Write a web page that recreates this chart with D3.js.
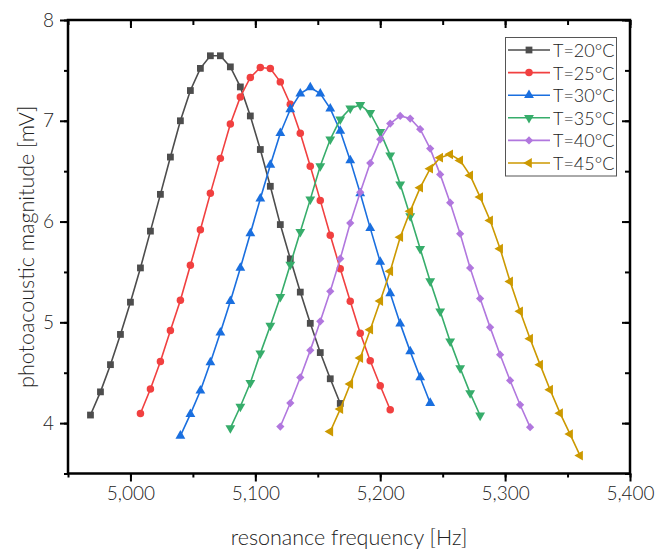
<!DOCTYPE html>
<html>
<head>
<meta charset="utf-8">
<script src="https://cdn.jsdelivr.net/npm/d3@7/dist/d3.min.js"></script>
<style>
  body { margin: 0; background: #fff; }
  text { font-family: Lato, "Open Sans", sans-serif; font-weight: 300; fill: #222; }
</style>
</head>
<body>
<div id="chart"></div>
<script>
// series labels and colours
var labels = ["T=20\u00b0C", "T=25\u00b0C", "T=30\u00b0C", "T=35\u00b0C", "T=40\u00b0C", "T=45\u00b0C"];
var colors = ["#4d4d4d", "#f14040", "#1a6fdf", "#37ad6b", "#b177de", "#cc9900"];

// resonance frequency [Hz] for each sweep
var freq20 = [4968, 4976, 4984, 4992, 5000, 5008, 5016, 5024, 5032, 5040, 5048, 5056, 5064, 5072, 5080, 5088, 5096, 5104, 5112, 5120, 5128, 5136, 5144, 5152, 5160, 5168];
var freq25 = [5008, 5016, 5024, 5032, 5040, 5048, 5056, 5064, 5072, 5080, 5088, 5096, 5104, 5112, 5120, 5128, 5136, 5144, 5152, 5160, 5168, 5176, 5184, 5192, 5200, 5208];
var freq30 = [5040, 5048, 5056, 5064, 5072, 5080, 5088, 5096, 5104, 5112, 5120, 5128, 5136, 5144, 5152, 5160, 5168, 5176, 5184, 5192, 5200, 5208, 5216, 5224, 5232, 5240];
var freq35 = [5080, 5088, 5096, 5104, 5112, 5120, 5128, 5136, 5144, 5152, 5160, 5168, 5176, 5184, 5192, 5200, 5208, 5216, 5224, 5232, 5240, 5248, 5256, 5264, 5272, 5280];
var freq40 = [5120, 5128, 5136, 5144, 5152, 5160, 5168, 5176, 5184, 5192, 5200, 5208, 5216, 5224, 5232, 5240, 5248, 5256, 5264, 5272, 5280, 5288, 5296, 5304, 5312, 5320];
var freq45 = [5160, 5168, 5176, 5184, 5192, 5200, 5208, 5216, 5224, 5232, 5240, 5248, 5256, 5264, 5272, 5280, 5288, 5296, 5304, 5312, 5320, 5328, 5336, 5344, 5352, 5360];

// photoacoustic magnitude [mV]
var mag20 = [4.08, 4.31, 4.58, 4.88, 5.20, 5.54, 5.905, 6.27, 6.64, 7.00, 7.30, 7.52, 7.645, 7.645, 7.535, 7.336, 7.048, 6.715, 6.35, 5.97, 5.63, 5.30, 4.99, 4.70, 4.44, 4.195];
var mag25 = [4.095, 4.338, 4.612, 4.918, 5.219, 5.566, 5.918, 6.28, 6.627, 6.968, 7.237, 7.43, 7.529, 7.519, 7.386, 7.164, 6.876, 6.548, 6.21, 5.865, 5.531, 5.209, 4.891, 4.619, 4.371, 4.132];
var mag30 = [3.874, 4.089, 4.321, 4.602, 4.898, 5.209, 5.54, 5.882, 6.227, 6.561, 6.876, 7.114, 7.27, 7.33, 7.27, 7.121, 6.899, 6.607, 6.28, 5.935, 5.60, 5.288, 4.987, 4.712, 4.453, 4.199];
var mag35 = [3.95, 4.165, 4.40, 4.692, 4.967, 5.252, 5.574, 5.899, 6.22, 6.551, 6.816, 7.015, 7.123, 7.157, 7.078, 6.889, 6.657, 6.369, 6.054, 5.73, 5.408, 5.109, 4.811, 4.547, 4.298, 4.076];
var mag40 = [3.966, 4.199, 4.453, 4.722, 5.01, 5.308, 5.632, 5.985, 6.29, 6.58, 6.816, 6.972, 7.048, 7.022, 6.916, 6.724, 6.468, 6.187, 5.879, 5.54, 5.236, 4.95, 4.679, 4.423, 4.182, 3.96];
var mag45 = [3.917, 4.139, 4.388, 4.646, 4.927, 5.212, 5.507, 5.845, 6.103, 6.336, 6.525, 6.634, 6.667, 6.607, 6.458, 6.243, 6.011, 5.73, 5.405, 5.109, 4.838, 4.58, 4.331, 4.099, 3.891, 3.678];

var xTicks = [5000, 5100, 5200, 5300, 5400];
var yTicks = [4, 5, 6, 7, 8];

var freqs = [freq20, freq25, freq30, freq35, freq40, freq45];
var mags = [mag20, mag25, mag30, mag35, mag40, mag45];

var width = 656;
var height = 549;
// plot frame (window.top is read-only, so no bare "top")
var padL = 68, padR = 630, padT = 20, padB = 473.5;

var svg = d3.select('#chart').append('svg')
  .attr('width', width)
  .attr('height', height);

var x = d3.scaleLinear().domain([4950, 5400]).range([padL, padR]);
var y = d3.scaleLinear().domain([3.5, 8]).range([padB, padT]);

// marker shapes: square, circle, up, down, diamond, left
var shapes = [
  { type: d3.symbolSquare, size: 46, rot: 0 },
  { type: d3.symbolCircle, size: 44, rot: 0 },
  { type: d3.symbolTriangle, size: 42, rot: 0 },
  { type: d3.symbolTriangle, size: 42, rot: 180 },
  { type: d3.symbolSquare, size: 34, rot: 45 },
  { type: d3.symbolTriangle, size: 42, rot: -90 }
];

var line = d3.line()
  .x(function(d) { return x(d[0]); })
  .y(function(d) { return y(d[1]); });

var plot = svg.append('g');
for (var s = 0; s < freqs.length; s++) {
  var pts = freqs[s].map(function(f, i) { return [f, mags[s][i]]; });
  plot.append('path')
    .datum(pts)
    .attr('d', line)
    .attr('fill', 'none')
    .attr('stroke', colors[s])
    .attr('stroke-width', 1.6);
  var sym = d3.symbol().type(shapes[s].type).size(shapes[s].size);
  var rot = shapes[s].rot;
  plot.selectAll('.m' + s)
    .data(pts)
    .enter().append('path')
    .attr('class', 'm' + s)
    .attr('d', sym)
    .attr('fill', colors[s])
    .attr('transform', function(d) {
      return 'translate(' + x(d[0]) + ',' + y(d[1]) + ') rotate(' + rot + ')';
    });
}

// axes: bottom/left ticks out, top/right ticks in
var xMinor = d3.range(4950, 5401, 50);
var yMinor = d3.range(3.5, 8.01, 0.5);

function noLabel() { return ''; }
function dropDomain(g) { g.select('.domain').remove(); }

svg.append('g').attr('transform', 'translate(0,' + padB + ')')
  .call(d3.axisBottom(x).tickValues(xMinor).tickSize(4).tickFormat(noLabel))
  .call(dropDomain);
svg.append('g').attr('transform', 'translate(0,' + padB + ')')
  .call(d3.axisBottom(x).tickValues(xTicks).tickSize(8).tickPadding(5).tickFormat(d3.format(',')))
  .call(dropDomain);

svg.append('g').attr('transform', 'translate(0,' + padT + ')')
  .call(d3.axisTop(x).tickValues(xMinor).tickSize(-5).tickFormat(noLabel))
  .call(dropDomain);
svg.append('g').attr('transform', 'translate(0,' + padT + ')')
  .call(d3.axisTop(x).tickValues(xTicks).tickSize(-8).tickFormat(noLabel))
  .call(dropDomain);

svg.append('g').attr('transform', 'translate(' + padL + ',0)')
  .call(d3.axisLeft(y).tickValues(yMinor).tickSize(4).tickFormat(noLabel))
  .call(dropDomain);
svg.append('g').attr('transform', 'translate(' + padL + ',0)')
  .call(d3.axisLeft(y).tickValues(yTicks).tickSize(8).tickPadding(6).tickFormat(d3.format('d')))
  .call(dropDomain);

svg.append('g').attr('transform', 'translate(' + padR + ',0)')
  .call(d3.axisRight(y).tickValues(yMinor).tickSize(-5).tickFormat(noLabel))
  .call(dropDomain);
svg.append('g').attr('transform', 'translate(' + padR + ',0)')
  .call(d3.axisRight(y).tickValues(yTicks).tickSize(-8).tickFormat(noLabel))
  .call(dropDomain);

svg.selectAll('.tick line').attr('stroke', '#000').attr('stroke-width', 2);
svg.selectAll('.tick text').attr('font-size', 19).attr('fill', '#222')
  .style('font-family', 'Lato, "Open Sans", sans-serif').style('font-weight', 300);

svg.append('rect')
  .attr('x', padL)
  .attr('y', padT)
  .attr('width', padR - padL)
  .attr('height', padB - padT)
  .attr('fill', 'none')
  .attr('stroke', '#000')
  .attr('stroke-width', 2.5);

// axis titles
svg.append('text')
  .attr('x', (padL + padR) / 2)
  .attr('y', 537)
  .attr('text-anchor', 'middle')
  .attr('dominant-baseline', 'central')
  .attr('font-size', 21.5)
  .text('resonance frequency [Hz]');

svg.append('text')
  .attr('transform', 'translate(26,' + (padT + padB) / 2 + ') rotate(-90)')
  .attr('text-anchor', 'middle')
  .attr('dominant-baseline', 'central')
  .attr('font-size', 21.5)
  .text('photoacoustic magnitude [mV]');

// legend
var legend = svg.append('g');
legend.append('rect')
  .attr('x', 505.5)
  .attr('y', 37.5)
  .attr('width', 111)
  .attr('height', 138.5)
  .attr('fill', '#fff')
  .attr('stroke', '#555')
  .attr('stroke-width', 1);

for (var k = 0; k < labels.length; k++) {
  var ly = 50 + k * 22.6;
  legend.append('line')
    .attr('x1', 508).attr('x2', 550)
    .attr('y1', ly).attr('y2', ly)
    .attr('stroke', colors[k])
    .attr('stroke-width', 1.6);
  legend.append('path')
    .attr('d', d3.symbol().type(shapes[k].type).size(shapes[k].size))
    .attr('fill', colors[k])
    .attr('transform', 'translate(529,' + ly + ') rotate(' + shapes[k].rot + ')');
  legend.append('text')
    .attr('x', 553)
    .attr('y', ly)
    .attr('dominant-baseline', 'central')
    .attr('font-size', 18)
    .text(labels[k]);
}
</script>
</body>
</html>
